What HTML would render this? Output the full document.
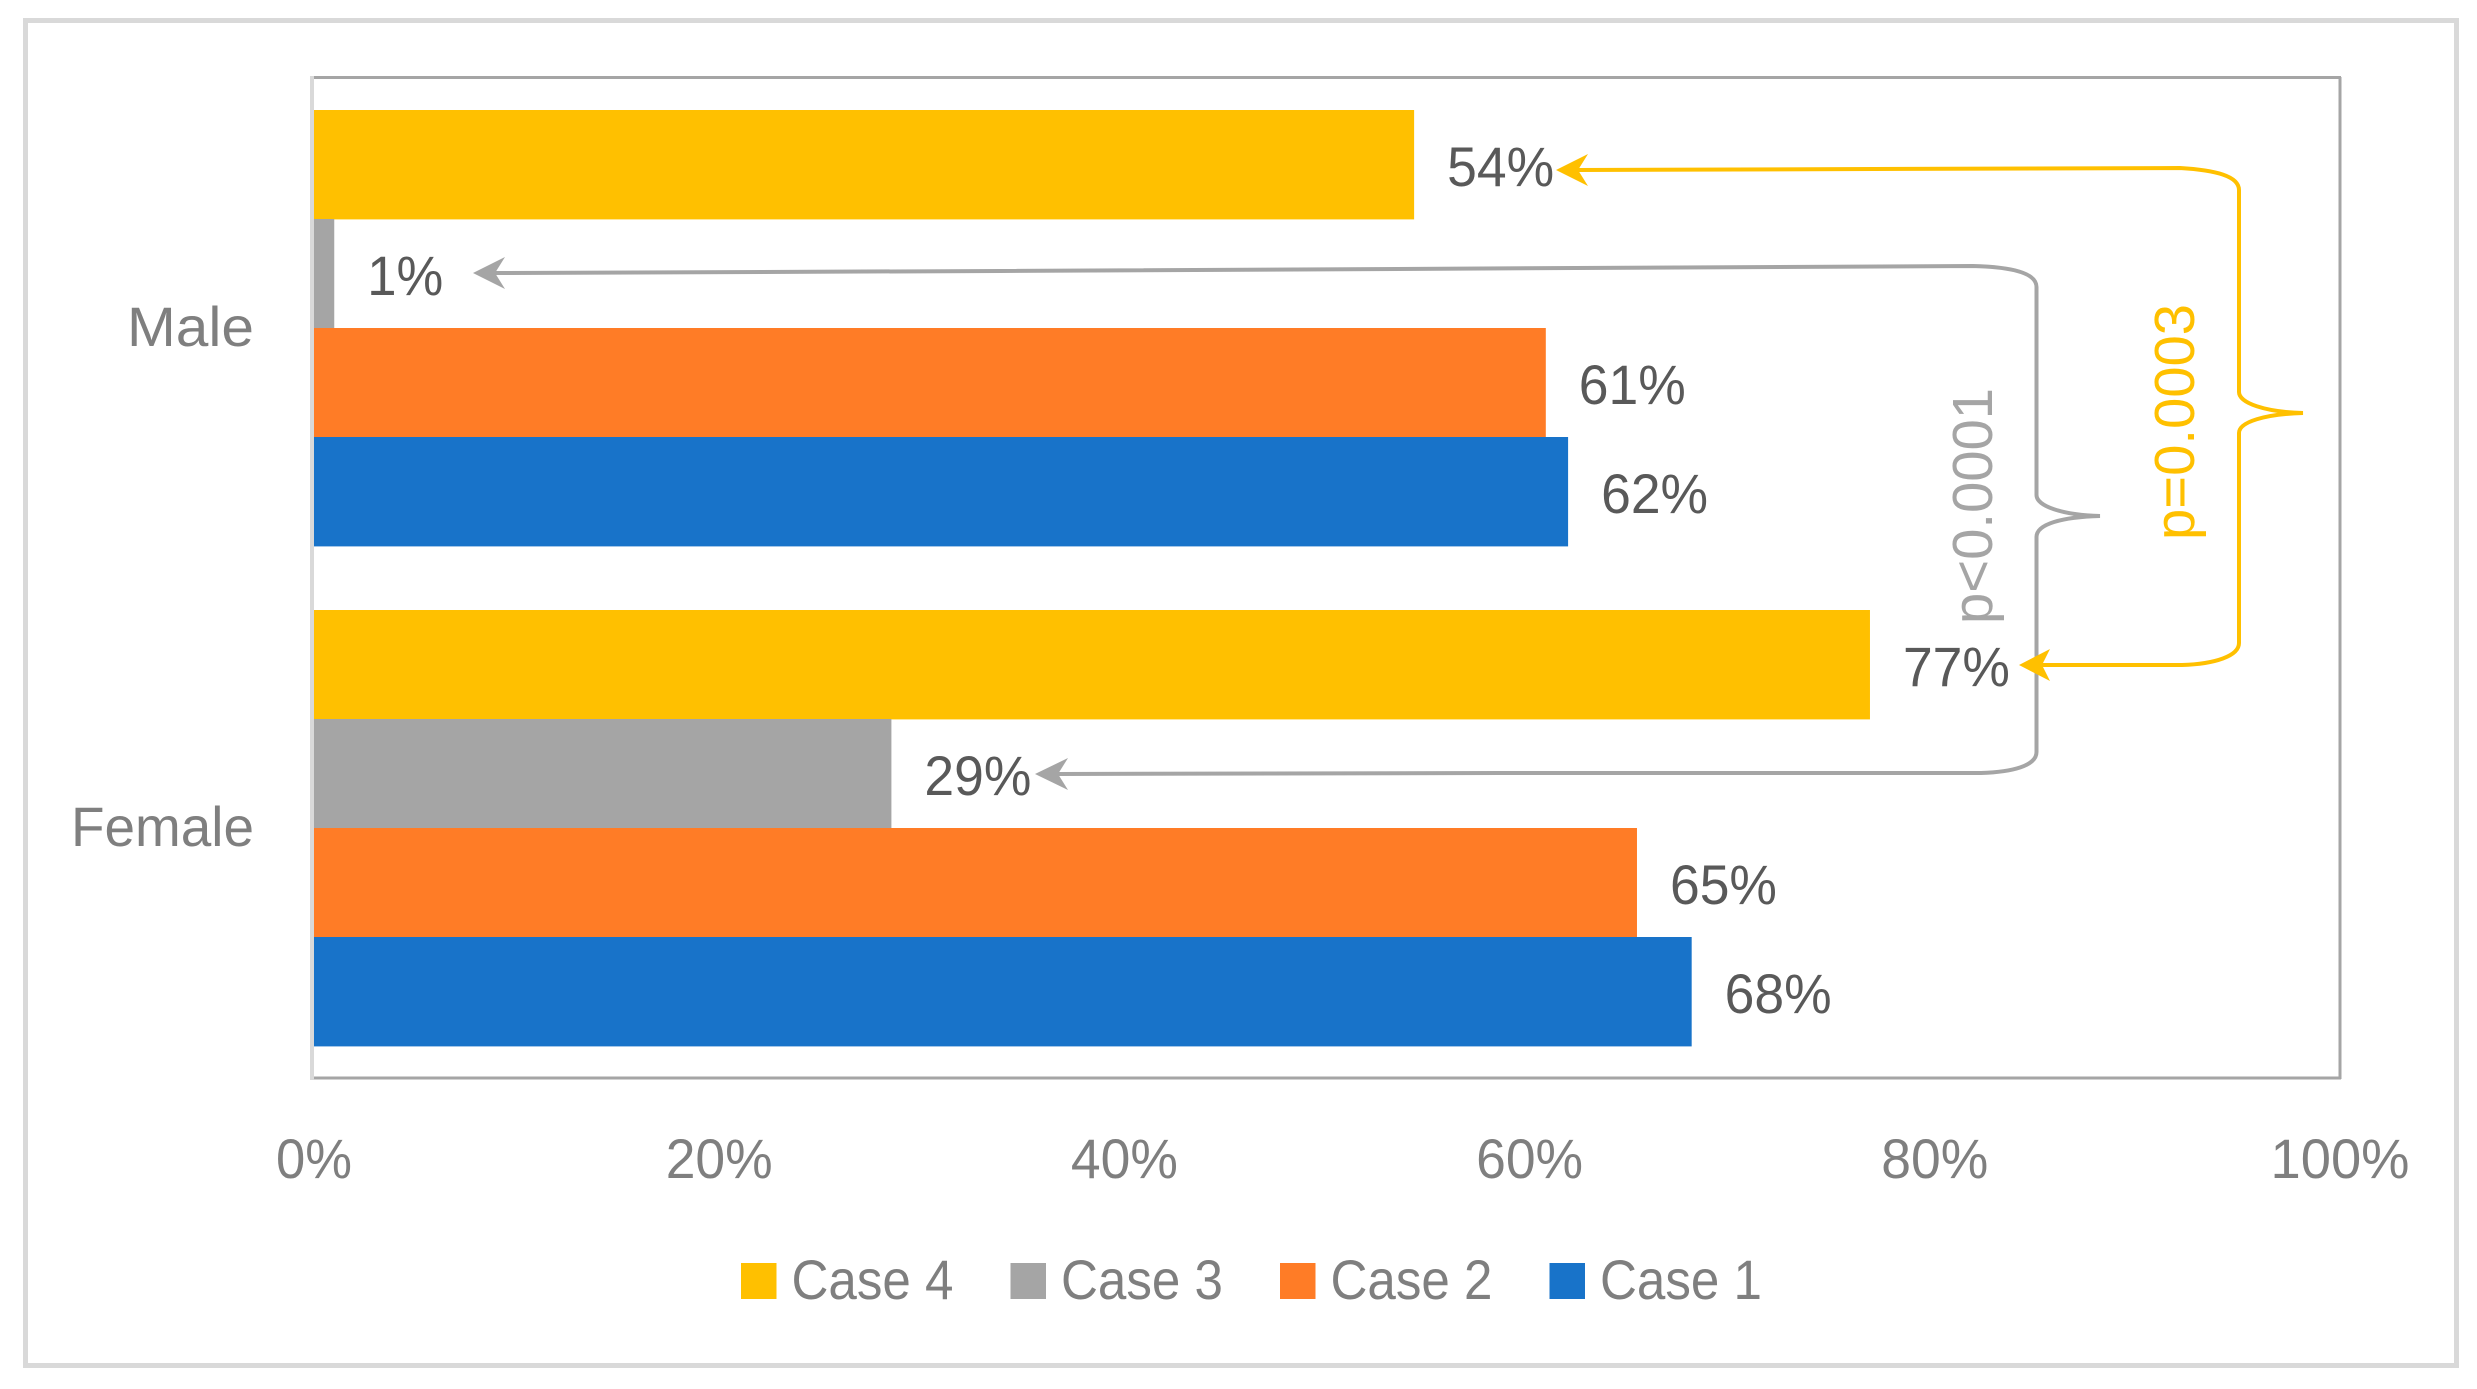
<!DOCTYPE html>
<html lang="en">
<head>
<meta charset="utf-8">
<title>Case comparison by sex</title>
<style>
html,body{margin:0;padding:0;background:#fff;}
svg{display:block;}
text{font-family:"Liberation Sans",sans-serif;}
</style>
</head>
<body>
<svg id="chart" xmlns="http://www.w3.org/2000/svg" width="2477" height="1389" viewBox="0 0 2477 1389">
  <rect x="0" y="0" width="2477" height="1389" fill="#ffffff"/>
  <rect x="25.5" y="20.5" width="2431" height="1345" fill="#ffffff" stroke="#d9d9d9" stroke-width="5"/>
  <g id="plot-frame">
    <line x1="310" y1="77.5" x2="2341" y2="77.5" stroke="#a5a5a5" stroke-width="3"/>
    <line x1="2340" y1="77" x2="2340" y2="1079" stroke="#a5a5a5" stroke-width="3"/>
    <line x1="310" y1="1078" x2="2341" y2="1078" stroke="#a5a5a5" stroke-width="3"/>
  </g>
  <g id="bars"></g>
  <line x1="312" y1="76" x2="312" y2="1080" stroke="#d9d9d9" stroke-width="4"/>
  <g id="data-labels"></g>
  <g id="x-axis"></g>
  <g id="y-axis"></g>
  <g id="legend"></g>

  <g>
    <path fill="none" stroke="#a5a5a5" stroke-width="4" d="M 495 273 L 1000 271 L 1973 266 C 2012 267 2036.5 273 2036.5 287 L 2036.5 495 C 2036.5 506 2062 515 2100 516 C 2062 517 2036.5 524 2036.5 537 L 2036.5 752 C 2036.5 766 2012 772 1981 773 L 1500 773 L 1058 774"/>
    <polygon fill="#a5a5a5" points="473,273 505,257 495,273 505,289"/>
    <polygon fill="#a5a5a5" points="1035,774 1068,758 1058,774 1068,790"/>
    <text transform="translate(1992 624) rotate(-90)" font-size="57" fill="#a5a5a5" textLength="236" lengthAdjust="spacingAndGlyphs">p&lt;0.0001</text>
  </g>
  <g>
    <path fill="none" stroke="#ffc000" stroke-width="4" d="M 1578 170 L 2180 168 C 2215 170 2239 176 2239 190 L 2239 392 C 2239 403 2265 412 2303 413 C 2265 414 2239 422 2239 433 L 2239 643 C 2239 656 2215 664 2182 665 L 2042 665"/>
    <polygon fill="#ffc000" points="1556,170 1588,154 1578,170 1588,186"/>
    <polygon fill="#ffc000" points="2019,665 2050,649 2042,665 2050,681"/>
    <text transform="translate(2194 540) rotate(-90)" font-size="57" fill="#ffc000" textLength="236" lengthAdjust="spacingAndGlyphs">p=0.0003</text>
  </g>
</svg>
<script>
// Chart data
const categories = ["Male", "Female"];
const seriesNames = ["Case 4", "Case 3", "Case 2", "Case 1"];
const case4Values = [54.3, 76.8];
const case3Values = [1, 28.5];
const case2Values = [60.8, 65.3];
const case1Values = [61.9, 68];
const xTicks = [0, 20, 40, 60, 80, 100];

const seriesValues = [case4Values, case3Values, case2Values, case1Values];
const seriesColors = ["#ffc000", "#a5a5a5", "#ff7c26", "#1873c9"];
const NS = "http://www.w3.org/2000/svg";

// Axis functions
const plot = {left: 314, right: 2340, top: 78, bottom: 1078};
const xScale = function (v) { return plot.left + (v / 100) * (plot.right - plot.left); };
const bandHeight = (plot.bottom - plot.top) / categories.length;
const groupGap = 64;
const barHeight = (bandHeight - groupGap) / seriesNames.length;
const yBand = function (c) { return plot.top + c * bandHeight; };
const yBar = function (c, s) { return yBand(c) + groupGap / 2 + s * barHeight; };

function make(tag, attrs, parent, content) {
  const node = document.createElementNS(NS, tag);
  Object.keys(attrs).forEach(function (k) { node.setAttribute(k, attrs[k]); });
  if (content !== undefined) node.textContent = content;
  parent.appendChild(node);
  return node;
}
function squeezedWidth(label) {
  return label.length === 2 ? 76 : label.length === 3 ? 107 : 139;
}

const barsGroup = document.getElementById("bars");
const labelsGroup = document.getElementById("data-labels");
seriesNames.forEach(function (name, s) {
  categories.forEach(function (cat, c) {
    const v = seriesValues[s][c];
    const slug = cat.toLowerCase() + "-" + name.toLowerCase().replace(" ", "-");
    const bar = make("rect", {
      x: plot.left,
      y: yBar(c, s),
      width: xScale(v) - plot.left,
      height: barHeight + 0.4,
      fill: seriesColors[s]
    }, barsGroup);
    
    

    const text = Math.round(v) + "%";
    const label = make("text", {
      x: xScale(v) + 33,
      y: yBar(c, s) + barHeight / 2 + 21.5,
      "font-size": 56,
      fill: "#595959",
      textLength: squeezedWidth(text),
      lengthAdjust: "spacingAndGlyphs"
    }, labelsGroup, text);
    
    
  });
});

const xAxisGroup = document.getElementById("x-axis");
xTicks.forEach(function (t) {
  const text = t + "%";
  const tick = make("text", {
    x: xScale(t),
    y: 1178,
    "font-size": 56,
    fill: "#7f7f7f",
    "text-anchor": "middle",
    textLength: squeezedWidth(text),
    lengthAdjust: "spacingAndGlyphs"
  }, xAxisGroup, text);
  
  
});

const yAxisGroup = document.getElementById("y-axis");
categories.forEach(function (cat, c) {
  const label = make("text", {
    x: 254,
    y: yBand(c) + bandHeight / 2 + 18,
    "font-size": 56,
    fill: "#7f7f7f",
    "text-anchor": "end",
    textLength: cat.length * 28 + 15,
    lengthAdjust: "spacingAndGlyphs"
  }, yAxisGroup, cat);
  
  
});

const legendGroup = document.getElementById("legend");
const legendStart = 741;
const legendStep = 269.5;
seriesNames.forEach(function (name, s) {
  const x0 = legendStart + s * legendStep;
  const slug = name.toLowerCase().replace(" ", "-");
  const entry = make("g", {}, legendGroup);
  
  
  const swatch = make("rect", {x: x0, y: 1263, width: 35.5, height: 36, fill: seriesColors[s]}, entry);
  
  
  const label = make("text", {
    x: x0 + 50.5,
    y: 1299,
    "font-size": 56,
    fill: "#7f7f7f",
    textLength: 162,
    lengthAdjust: "spacingAndGlyphs"
  }, entry, name);
  
  
});
</script>
</body>
</html>
